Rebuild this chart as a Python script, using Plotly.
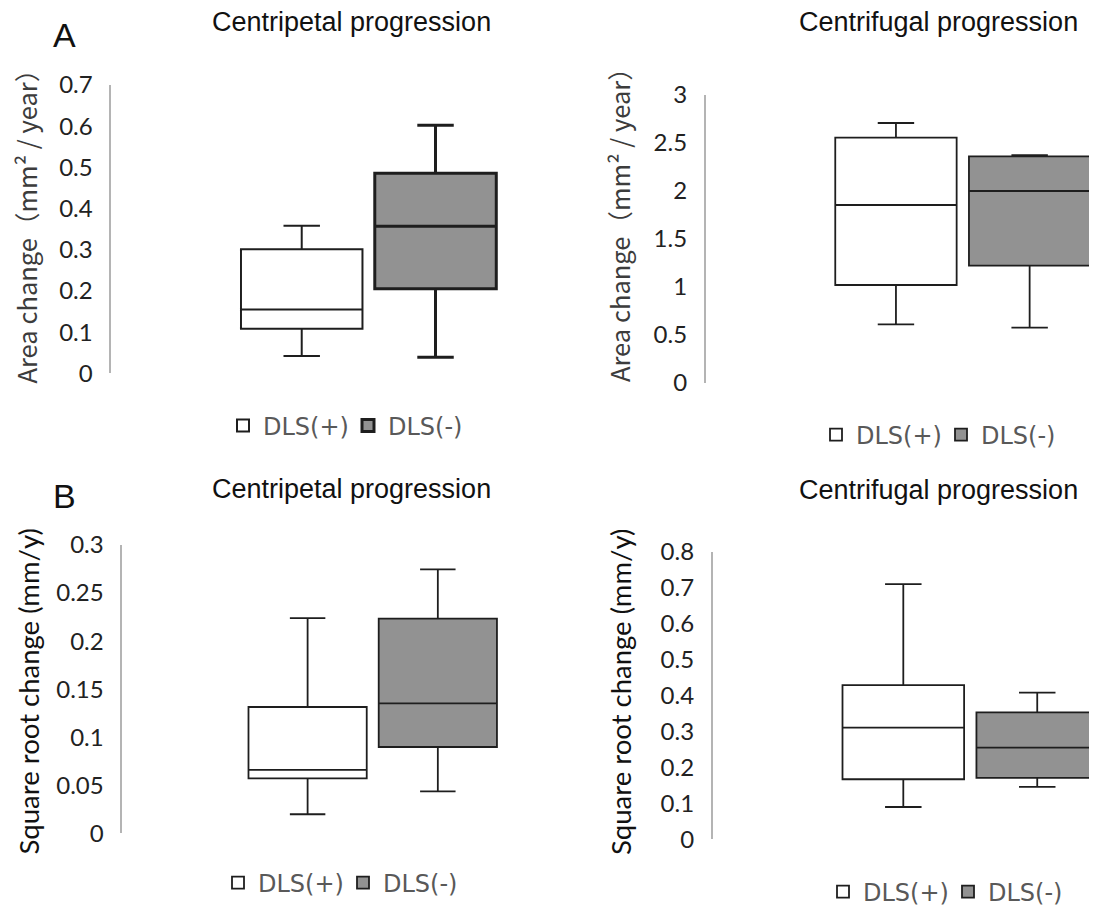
import plotly.graph_objects as go

# page body has an 8px margin, so the figure is drawn 8px smaller and every
# pixel position below (measured on the reference) is shifted by that margin
PAGE_W, PAGE_H = 1097, 910
OFF = 8
W, H = PAGE_W - OFF, PAGE_H - OFF

# ---------------- data ----------------
groups = ["DLS(+)", "DLS(-)"]

# Panel A-left: Area change, centripetal
a_cp_lower = [0.042, 0.039]
a_cp_q1 = [0.108, 0.205]
a_cp_median = [0.155, 0.357]
a_cp_q3 = [0.301, 0.486]
a_cp_upper = [0.358, 0.602]

# Panel A-right: Area change, centrifugal
a_cf_lower = [0.609, 0.574]
a_cf_q1 = [1.019, 1.220]
a_cf_median = [1.853, 1.999]
a_cf_q3 = [2.555, 2.361]
a_cf_upper = [2.708, 2.374]

# Panel B-left: Square root change, centripetal
b_cp_lower = [0.0198, 0.0437]
b_cp_q1 = [0.0572, 0.0898]
b_cp_median = [0.0659, 0.1353]
b_cp_q3 = [0.1314, 0.2233]
b_cp_upper = [0.224, 0.2747]

# Panel B-right: Square root change, centrifugal
b_cf_lower = [0.0898, 0.146]
b_cf_q1 = [0.167, 0.171]
b_cf_median = [0.3105, 0.255]
b_cf_q3 = [0.429, 0.353]
b_cf_upper = [0.710, 0.408]

panel_titles = ["Centripetal progression", "Centrifugal progression",
                "Centripetal progression", "Centrifugal progression"]
panel_letters = ["A", "B"]
ytitle_area = "Area change（mm² / year）"
ytitle_sqrt = "Square root change (mm/y)"

a_cp_ticks = [0, 0.1, 0.2, 0.3, 0.4, 0.5, 0.6, 0.7]
a_cp_ticktext = ["0", "0.1", "0.2", "0.3", "0.4", "0.5", "0.6", "0.7"]
a_cf_ticks = [0, 0.5, 1, 1.5, 2, 2.5, 3]
a_cf_ticktext = ["0", "0.5", "1", "1.5", "2", "2.5", "3"]
b_cp_ticks = [0, 0.05, 0.1, 0.15, 0.2, 0.25, 0.3]
b_cp_ticktext = ["0", "0.05", "0.1", "0.15", "0.2", "0.25", "0.3"]
b_cf_ticks = [0, 0.1, 0.2, 0.3, 0.4, 0.5, 0.6, 0.7, 0.8]
b_cf_ticktext = ["0", "0.1", "0.2", "0.3", "0.4", "0.5", "0.6", "0.7", "0.8"]

# ---------------- styling ----------------
FILLS = ["#ffffff", "#929292"]
LINE = "#1e1e1e"
AXIS_GREY = "#b4b4b4"
TICK_FONT = dict(family="Lato, 'Noto Sans', sans-serif", size=24, color="#222222")
TITLE_FONT = dict(family="'Liberation Sans', Arial, sans-serif", size=27, color="#111111")
LEGEND_FONT = dict(family="'DejaVu Sans', sans-serif", size=24, color="#595959")


def px_x(p):
    return (p - OFF) / W


def px_y(p):
    return 1 - (p - OFF) / H


panels = [
    dict(stats=(a_cp_lower, a_cp_q1, a_cp_median, a_cp_q3, a_cp_upper), ax="", leg="legend",
         xd=(111.3, 540), xr=(-0.5, 0.333), yd=(85, 373.3), yr=(0, 0.7),
         tv=a_cp_ticks, tt=a_cp_ticktext, lw=[2.0, 3.0], cat="Centripetal",
         legpos=(223, 426)),
    dict(stats=(a_cf_lower, a_cf_q1, a_cf_median, a_cf_q3, a_cf_upper), ax="2", leg="legend2",
         xd=(705.7, PAGE_W), xr=(-0.5, 0.261), yd=(95, 382.7), yr=(0, 3),
         tv=a_cf_ticks, tt=a_cf_ticktext, lw=[1.8, 1.8], cat="Centrifugal",
         legpos=(816, 435)),
    dict(stats=(b_cp_lower, b_cp_q1, b_cp_median, b_cp_q3, b_cp_upper), ax="3", leg="legend3",
         xd=(122.3, 540), xr=(-0.5, 0.334), yd=(545, 833.3), yr=(0, 0.3),
         tv=b_cp_ticks, tt=b_cp_ticktext, lw=[1.8, 1.8], cat="Centripetal",
         legpos=(218, 883)),
    dict(stats=(b_cf_lower, b_cf_q1, b_cf_median, b_cf_q3, b_cf_upper), ax="4", leg="legend4",
         xd=(712.7, PAGE_W), xr=(-0.5, 0.246), yd=(551.7, 839.3), yr=(0, 0.8),
         tv=b_cf_ticks, tt=b_cf_ticktext, lw=[1.8, 1.8], cat="Centrifugal",
         legpos=(823, 892)),
]

fig = go.Figure()
layout = dict(
    width=W, height=H, autosize=False,
    margin=dict(l=0, r=0, t=0, b=0, pad=0, autoexpand=False),
    paper_bgcolor="white", plot_bgcolor="rgba(0,0,0,0)",
    boxmode="group", boxgap=0.48, boxgroupgap=0.092,
    showlegend=True,
)

for p in panels:
    lower, q1, med, q3, upper = p["stats"]
    for i, g in enumerate(groups):
        fig.add_trace(go.Box(
            name=g, x=[p["cat"]],
            lowerfence=[lower[i]], q1=[q1[i]], median=[med[i]], q3=[q3[i]], upperfence=[upper[i]],
            fillcolor=FILLS[i], line=dict(color=LINE, width=p["lw"][i]),
            whiskerwidth=0.3, boxpoints=False,
            offsetgroup=g, xaxis="x" + p["ax"], yaxis="y" + p["ax"],
            legend=p["leg"], showlegend=True, hoverinfo="skip",
        ))
    layout["xaxis" + p["ax"]] = dict(
        domain=[px_x(p["xd"][0]), min(1.0, px_x(p["xd"][1]))], range=list(p["xr"]),
        type="category", visible=False, anchor="y" + p["ax"], automargin=False,
    )
    layout["yaxis" + p["ax"]] = dict(
        domain=[px_y(p["yd"][1]), px_y(p["yd"][0])], range=list(p["yr"]),
        anchor="x" + p["ax"], showline=True, linecolor=AXIS_GREY, linewidth=1.6,
        showgrid=False, zeroline=False, ticks="", ticklabelstandoff=12, automargin=False,
        tickmode="array", tickvals=p["tv"], ticktext=p["tt"], tickfont=TICK_FONT,
    )
    layout[p["leg"]] = dict(
        orientation="h", x=px_x(p["legpos"][0]), y=px_y(p["legpos"][1]),
        xanchor="left", yanchor="middle", bgcolor="rgba(0,0,0,0)", borderwidth=0,
        font=LEGEND_FONT, traceorder="normal", entrywidth=80, entrywidthmode="pixels",
    )

annotations = []
title_pos = [(351.6, 22), (938, 22), (351.6, 488.5), (938, 489.5)]
for t, (x, y) in zip(panel_titles, title_pos):
    annotations.append(dict(text=t, x=px_x(x), y=px_y(y), xref="paper", yref="paper",
                            xanchor="center", yanchor="middle", showarrow=False, font=TITLE_FONT))
for t, (x, y) in zip(panel_letters, [(64, 35), (64, 496)]):
    annotations.append(dict(text=t, x=px_x(x), y=px_y(y), xref="paper", yref="paper",
                            xanchor="center", yanchor="middle", showarrow=False,
                            font=dict(family="'Liberation Sans', Arial, sans-serif", size=34, color="#111111")))
ytitle_font_a = dict(family="'Noto Sans CJK JP', 'Noto Sans', sans-serif", size=25.5, color="#3c3c3c")
ytitle_font_b = dict(family="Lato, 'Noto Sans', sans-serif", size=27.5, color="#111111")
for t, (x, y), f in [(ytitle_area, (24.5, 220), ytitle_font_a), (ytitle_area, (619, 219), ytitle_font_a),
                     (ytitle_sqrt, (27.5, 692), ytitle_font_b), (ytitle_sqrt, (620, 692), ytitle_font_b)]:
    annotations.append(dict(text=t, x=px_x(x), y=px_y(y), xref="paper", yref="paper",
                            xanchor="center", yanchor="middle", textangle=-90, showarrow=False, font=f))

layout["annotations"] = annotations
fig.update_layout(**layout)
fig.write_html("out.html")
